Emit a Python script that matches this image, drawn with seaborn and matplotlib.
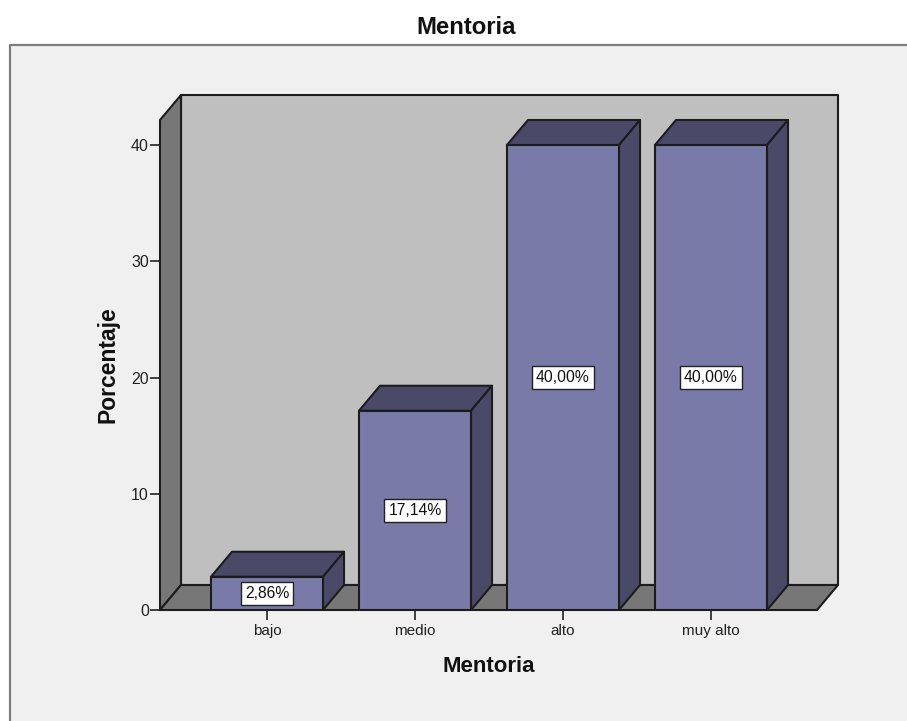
import matplotlib
matplotlib.use("Agg")
import matplotlib.pyplot as plt
import pandas as pd
import seaborn as sns
from matplotlib.patches import Polygon, Rectangle

categories = ["bajo", "medio", "alto", "muy alto"]
percentages = [2.86, 17.14, 40.00, 40.00]
value_labels = ["2,86%", "17,14%", "40,00%", "40,00%"]
y_ticks = [0, 10, 20, 30, 40]

FRONT = "#7a7aa8"
SHADE = "#4a4a68"
WALL = "#bfbfbf"
SIDE = "#777777"
EDGE = "#1c1c1c"
PANEL = "#f0f0f0"
W, H = 907, 721

sns.set_theme(style="white")
plt.rcParams["font.family"] = ["Liberation Sans", "DejaVu Sans"]

fig = plt.figure(figsize=(W / 100, H / 100), dpi=100, facecolor="white")

# Chart panel: open at the right and bottom edges of the figure
fig.add_artist(Rectangle((10 / W, 0), 1, 1 - 45 / H, transform=fig.transFigure,
                         facecolor=PANEL, edgecolor="none", zorder=-5))
fig.add_artist(plt.Line2D([10 / W, 10 / W, 1], [0, 1 - 45 / H, 1 - 45 / H],
                          transform=fig.transFigure, color="#7d7d7d", lw=1.6, zorder=-4))
fig.text(466 / W, 1 - 27 / H, "Mentoria", ha="center", va="center",
         fontsize=17.2, fontweight="bold", color="#111111")

ax = fig.add_axes([160 / W, 1 - 610 / H, 657 / W, 490 / H])
ax.patch.set_visible(False)

df = pd.DataFrame({"nivel": categories, "porcentaje": percentages})
sns.barplot(data=df, x="nivel", y="porcentaje", order=categories, color=FRONT,
            saturation=1, width=0.757, edgecolor=EDGE, linewidth=1.5, ax=ax, zorder=3)

ax.set_xlim(-107 / 148, 550 / 148)
ax.set_ylim(0, 490 / 11.625)

# Oblique offset of the box depth, in data units
dx = 21 / 148
dy = 25 / 11.625
x0, x1 = ax.get_xlim()
y0, y1 = ax.get_ylim()


def face(points, color, z):
    ax.add_patch(Polygon(points, closed=True, facecolor=color, edgecolor=EDGE,
                         linewidth=1.5, joinstyle="round", clip_on=False, zorder=z))


# Back wall, left wall and floor of the box
face([(x0 + dx, y0 + dy), (x1 + dx, y0 + dy), (x1 + dx, y1 + dy), (x0 + dx, y1 + dy)], WALL, 0.5)
face([(x0, y0), (x0 + dx, y0 + dy), (x0 + dx, y1 + dy), (x0, y1)], SIDE, 0.6)
face([(x0, y0), (x1, y0), (x1 + dx, y0 + dy), (x0 + dx, y0 + dy)], SIDE, 0.7)

# Top and right faces of every bar, plus its value label
for bar, text in zip(ax.patches[:len(categories)], value_labels):
    left, right = bar.get_x(), bar.get_x() + bar.get_width()
    top = bar.get_height()
    face([(left, top), (right, top), (right + dx, top + dy), (left + dx, top + dy)], SHADE, 2.5)
    face([(right, 0), (right + dx, dy), (right + dx, top + dy), (right, top)], SHADE, 2.5)
    ax.text((left + right) / 2, top / 2, text, ha="center", va="center", fontsize=11.3,
            color="#111111", zorder=5,
            bbox=dict(boxstyle="square,pad=0.26", facecolor="white", edgecolor="#222222", linewidth=1))

ax.set_yticks(y_ticks)
ax.set_xlabel("Mentoria", fontsize=16, fontweight="bold", color="#111111", labelpad=12.7)
ax.set_ylabel("Porcentaje", fontsize=16.5, fontweight="bold", color="#111111", labelpad=8.5)
ax.tick_params(axis="x", length=7.5, width=1.2, color="#222222", labelsize=11, labelcolor="#222222", pad=2.5, bottom=True)
ax.tick_params(axis="y", length=7, width=1.2, color="#222222", labelsize=11.5, labelcolor="#222222", pad=1, left=True)
for side in ("top", "right", "left", "bottom"):
    ax.spines[side].set_visible(False)

fig.savefig("out.png", dpi=100, facecolor="white")
